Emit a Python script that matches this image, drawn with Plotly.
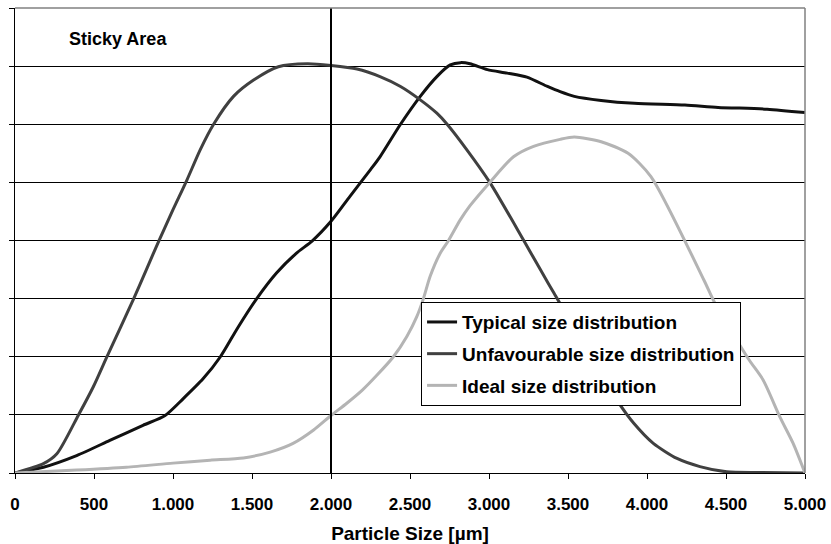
import plotly.graph_objects as go

# ---- data ----
typical_x = [0, 180, 390, 600, 810, 950, 1065, 1190, 1300, 1410, 1530, 1655, 1780, 1880,
             2000, 2120, 2250, 2310, 2440, 2565, 2670, 2755, 2820, 2880, 2990, 3115, 3240,
             3370, 3450, 3540, 3710, 3920, 4240, 4450, 4760, 5000]
typical_y = [0, 0.10, 0.30, 0.56, 0.82, 0.99, 1.28, 1.62, 2.0, 2.5, 3.0, 3.44, 3.78, 3.99,
             4.33, 4.76, 5.22, 5.44, 6.0, 6.48, 6.82, 7.02, 7.06, 7.04, 6.94, 6.88, 6.81,
             6.65, 6.56, 6.48, 6.41, 6.36, 6.33, 6.29, 6.26, 6.20]

unfav_x = [0, 180, 265, 400, 495, 580, 665, 750, 835, 910, 1000, 1088, 1172, 1257, 1383,
           1510, 1667, 1850, 2000, 2165, 2310, 2440, 2565, 2670, 2735, 2860, 3005,
           3220, 3325, 3410, 3820, 3915, 4040, 4190, 4335, 4505, 4730, 5000]
unfav_y = [0, 0.16, 0.33, 0.99, 1.48, 1.99, 2.49, 2.99, 3.52, 3.99, 4.53, 5.04, 5.56, 6.0,
           6.48, 6.76, 6.99, 7.04, 7.01, 6.95, 6.82, 6.65, 6.42, 6.19, 6.0, 5.56, 5.0,
           4.0, 3.5, 3.1, 1.21, 0.86, 0.51, 0.25, 0.11, 0.02, 0.01, 0]

ideal_x = [0, 390, 705, 1000, 1235, 1445, 1615, 1760, 1890, 2000, 2100, 2200, 2290, 2395,
           2480, 2543, 2585, 2627, 2691, 2744, 2817, 2880, 3005, 3155, 3282, 3450, 3540,
           3710, 3880, 4025, 4360, 4430, 4640, 4735, 4840, 4925, 5000]
ideal_y = [0, 0.05, 0.10, 0.17, 0.22, 0.26, 0.36, 0.51, 0.74, 0.99, 1.20, 1.43, 1.68, 2.0,
           2.35, 2.69, 3.0, 3.38, 3.78, 4.0, 4.35, 4.6, 5.0, 5.44, 5.62, 5.74, 5.78,
           5.70, 5.50, 5.10, 3.32, 2.92, 1.97, 1.60, 0.97, 0.51, 0]

series_names = ["Typical size distribution", "Unfavourable size distribution",
                "Ideal size distribution"]
series_colors = ["#111111", "#404040", "#b4b4b4"]

x_tick_vals = [0, 500, 1000, 1500, 2000, 2500, 3000, 3500, 4000, 4500, 5000]
x_tick_text = ["0", "500", "1.000", "1.500", "2.000", "2.500", "3.000", "3.500",
               "4.000", "4.500", "5.000"]
y_tick_vals = [0, 1, 2, 3, 4, 5, 6, 7, 8]

sticky_limit = 2000
sticky_label = "Sticky Area"
x_title = "Particle Size [µm]"

FONT = "Liberation Sans, Arial, sans-serif"

fig = go.Figure()
for i, (xs, ys) in enumerate([(typical_x, typical_y), (unfav_x, unfav_y), (ideal_x, ideal_y)]):
    fig.add_trace(go.Scatter(
        x=xs, y=ys, mode="lines", name=series_names[i],
        line=dict(color=series_colors[i], width=3, shape="spline", smoothing=0.7),
        legendgroup=f"g{i}", hoverinfo="skip",
    ))

# vertical sticky-limit line
fig.add_shape(type="line", xref="x", yref="y", x0=sticky_limit, x1=sticky_limit,
              y0=y_tick_vals[0], y1=y_tick_vals[-1], line=dict(color="black", width=2),
              layer="above")
# top and right borders (gray)
fig.add_shape(type="line", xref="paper", yref="paper", x0=0, x1=1, y0=1, y1=1,
              line=dict(color="#808080", width=1.5), layer="above")
fig.add_shape(type="line", xref="paper", yref="paper", x0=1, x1=1, y0=0, y1=1,
              line=dict(color="#808080", width=1.5), layer="above")

fig.add_annotation(text=sticky_label, xref="paper", yref="paper",
                   x=0.1307, y=0.933, xanchor="center", yanchor="middle", showarrow=False,
                   font=dict(family=FONT, size=18, color="black", weight="bold"))

fig.update_layout(
    width=831, height=544,
    margin=dict(l=15, r=26, t=8, b=71),
    paper_bgcolor="white", plot_bgcolor="white",
    showlegend=True,
    legend=dict(x=0.514, y=0.3675, xanchor="left", yanchor="top",
                bgcolor="white", bordercolor="black", borderwidth=1,
                font=dict(family=FONT, size=19, color="black", weight="bold"),
                tracegroupgap=4, traceorder="grouped"),
    font=dict(family=FONT, color="black"),
)
fig.update_xaxes(range=[0, 5000], tickvals=x_tick_vals, ticktext=x_tick_text,
                 showgrid=False, zeroline=False, showline=True, linecolor="black",
                 linewidth=1, ticks="outside", ticklen=5, tickcolor="black",
                 ticklabelstandoff=11, automargin=False,
                 tickfont=dict(family=FONT, size=17, color="black", weight="bold"),
                 title=dict(text=x_title, standoff=21,
                            font=dict(family=FONT, size=19, color="black", weight="bold")))
fig.update_yaxes(range=[0, 8], tickvals=y_tick_vals, showticklabels=False,
                 showgrid=True, gridcolor="black", gridwidth=1, zeroline=False,
                 showline=True, linecolor="black", linewidth=1, automargin=False,
                 ticks="outside", ticklen=5, tickcolor="black")

fig.write_html("out.html", config={"displayModeBar": False},
               post_script="document.body.style.margin='0px';")
